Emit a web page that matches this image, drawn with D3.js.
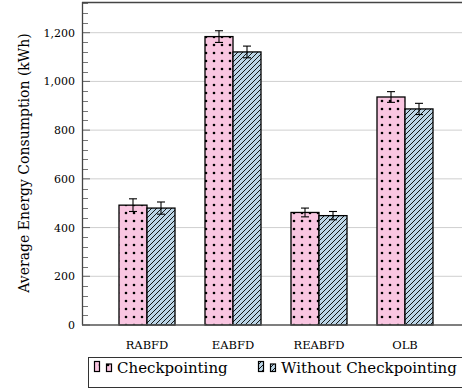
<!DOCTYPE html>
<meta charset="utf-8">
<script src="https://d3js.org/d3.v7.min.js"></script>
<style>
body { margin: 0; background: #fff; }
text { font-family: "DejaVu Serif", "Liberation Serif", serif; fill: #000; }
</style>
<body>
<script>

// data
var categories = ["RABFD", "EABFD", "REABFD", "OLB"];
var series = ["Checkpointing", "Without Checkpointing"];
var checkVals = [492, 1184, 462, 936];
var checkErr = [26, 24, 18, 22];
var noCheckVals = [480, 1121, 449, 887];
var noCheckErr = [25, 24, 17, 23];
var yTicks = [0, 200, 400, 600, 800, 1000, 1200];

var width = 462, height = 389;
var mLeft = 82, mTop = 2, mBottom = 325, mRight = 520;

var svg = d3.select("body").append("svg")
    .attr("width", width)
    .attr("height", height);

var defs = svg.append("defs");

// dotted pattern (pink)
var dots = defs.append("pattern")
    .attr("id", "dots")
    .attr("patternUnits", "userSpaceOnUse")
    .attr("width", 8).attr("height", 8)
    .attr("x", 2).attr("y", 1);
dots.append("rect").attr("width", 8).attr("height", 8).attr("fill", "#f9c6e1");
dots.append("circle").attr("cx", 4).attr("cy", 4).attr("r", 1.3).attr("fill", "#000");

// hatched pattern (blue)
var hatch = defs.append("pattern")
    .attr("id", "hatch")
    .attr("patternUnits", "userSpaceOnUse")
    .attr("width", 5).attr("height", 5);
hatch.append("rect").attr("width", 5).attr("height", 5).attr("fill", "#bcd5e6");
hatch.append("path")
    .attr("d", "M-1,6 L6,-1 M-1,1 L1,-1 M4,6 L6,4")
    .attr("stroke", "#000").attr("stroke-width", 0.9);

var y = d3.scaleLinear().domain([0, 1326]).range([mBottom, mTop]);
var x = d3.scaleBand().domain(categories).range([104, 448]);
var inner = d3.scaleBand().domain(series).range([0, 56]);

// grid
svg.append("g").selectAll("line")
    .data(yTicks.slice(1))
    .enter().append("line")
    .attr("x1", mLeft).attr("x2", mRight)
    .attr("y1", function(d) { return y(d); })
    .attr("y2", function(d) { return y(d); })
    .attr("stroke", "#cfcfcf").attr("stroke-width", 1);

// minor ticks
var minor = d3.range(0, 1326, 40).filter(function(d) { return d % 200 != 0; });
svg.append("g").selectAll("line")
    .data(minor)
    .enter().append("line")
    .attr("x1", mLeft).attr("x2", mLeft + 6)
    .attr("y1", function(d) { return Math.round(y(d)) + 0.5; })
    .attr("y2", function(d) { return Math.round(y(d)) + 0.5; })
    .attr("stroke", "#777").attr("stroke-width", 1);

// major ticks
svg.append("g").selectAll("line")
    .data(yTicks)
    .enter().append("line")
    .attr("x1", mLeft).attr("x2", mLeft + 8)
    .attr("y1", function(d) { return y(d); })
    .attr("y2", function(d) { return y(d); })
    .attr("stroke", "#666").attr("stroke-width", 1);

// y tick labels
svg.append("g").selectAll("text")
    .data(yTicks)
    .enter().append("text")
    .attr("x", 75)
    .attr("y", function(d) { return y(d) + 4; })
    .attr("text-anchor", "end")
    .style("font-size", "11px")
    .text(function(d) { return d3.format(",")(d); });

// axis title
svg.append("text")
    .attr("transform", "translate(29,163) rotate(-90)")
    .attr("text-anchor", "middle")
    .style("font-size", "14px")
    .text("Average Energy Consumption (kWh)");

// bars
var rows = [];
categories.forEach(function(c, i) {
  rows.push({cat: c, s: series[0], v: checkVals[i], e: checkErr[i], fill: "url(#dots)"});
  rows.push({cat: c, s: series[1], v: noCheckVals[i], e: noCheckErr[i], fill: "url(#hatch)"});
});

var bx = function(d) { return x(d.cat) + x.bandwidth() / 2 - 28 + inner(d.s); };

svg.append("g").selectAll("rect")
    .data(rows)
    .enter().append("rect")
    .attr("x", bx)
    .attr("y", function(d) { return y(d.v); })
    .attr("width", inner.bandwidth())
    .attr("height", function(d) { return y(0) - y(d.v); })
    .attr("fill", function(d) { return d.fill; })
    .attr("stroke", "#000").attr("stroke-width", 1.3);

// error bars
var eb = svg.append("g").attr("stroke", "#000").attr("stroke-width", 1.1);
rows.forEach(function(d) {
  var cx = bx(d) + inner.bandwidth() / 2;
  eb.append("line").attr("x1", cx).attr("x2", cx)
    .attr("y1", y(d.v + d.e)).attr("y2", y(d.v - d.e));
  eb.append("line").attr("x1", cx - 4).attr("x2", cx + 4)
    .attr("y1", y(d.v + d.e)).attr("y2", y(d.v + d.e));
  eb.append("line").attr("x1", cx - 4).attr("x2", cx + 4)
    .attr("y1", y(d.v - d.e)).attr("y2", y(d.v - d.e));
});

// axes frame
svg.append("line").attr("x1", mLeft).attr("x2", mRight).attr("y1", mTop + 0.5).attr("y2", mTop + 0.5)
    .attr("stroke", "#444").attr("stroke-width", 1.3);
svg.append("line").attr("x1", mLeft + 0.5).attr("x2", mLeft + 0.5).attr("y1", mTop).attr("y2", mBottom)
    .attr("stroke", "#444").attr("stroke-width", 1.3);
svg.append("line").attr("x1", mLeft).attr("x2", mRight).attr("y1", mBottom).attr("y2", mBottom)
    .attr("stroke", "#555").attr("stroke-width", 1.6);

// x labels
svg.append("g").selectAll("text")
    .data(categories)
    .enter().append("text")
    .attr("x", function(d) { return x(d) + x.bandwidth() / 2; })
    .attr("y", 349)
    .attr("text-anchor", "middle")
    .style("font-size", "11.5px")
    .text(function(d) { return d; });

// legend
var lg = svg.append("g");
lg.append("rect").attr("x", 88.5).attr("y", 357.5).attr("width", 420).attr("height", 30)
    .attr("fill", "#fff").attr("stroke", "#333").attr("stroke-width", 1);
var legendX = [94, 258];
series.forEach(function(s, i) {
  var fill = i == 0 ? "url(#dots)" : "url(#hatch)";
  var g = lg.append("g").attr("transform", "translate(" + legendX[i] + ",0)");
  g.append("rect").attr("x", 0.5).attr("y", 361.5).attr("width", 5).attr("height", 10)
    .attr("fill", fill).attr("stroke", "#000").attr("stroke-width", 1.2);
  g.append("rect").attr("x", 12.5).attr("y", 364).attr("width", 5).attr("height", 7.5)
    .attr("fill", fill).attr("stroke", "#000").attr("stroke-width", 1.2);
  g.append("text").attr("x", 23).attr("y", 372.5)
    .style("font-size", "15px")
    .text(s);
});

</script>
</body>
</html>
